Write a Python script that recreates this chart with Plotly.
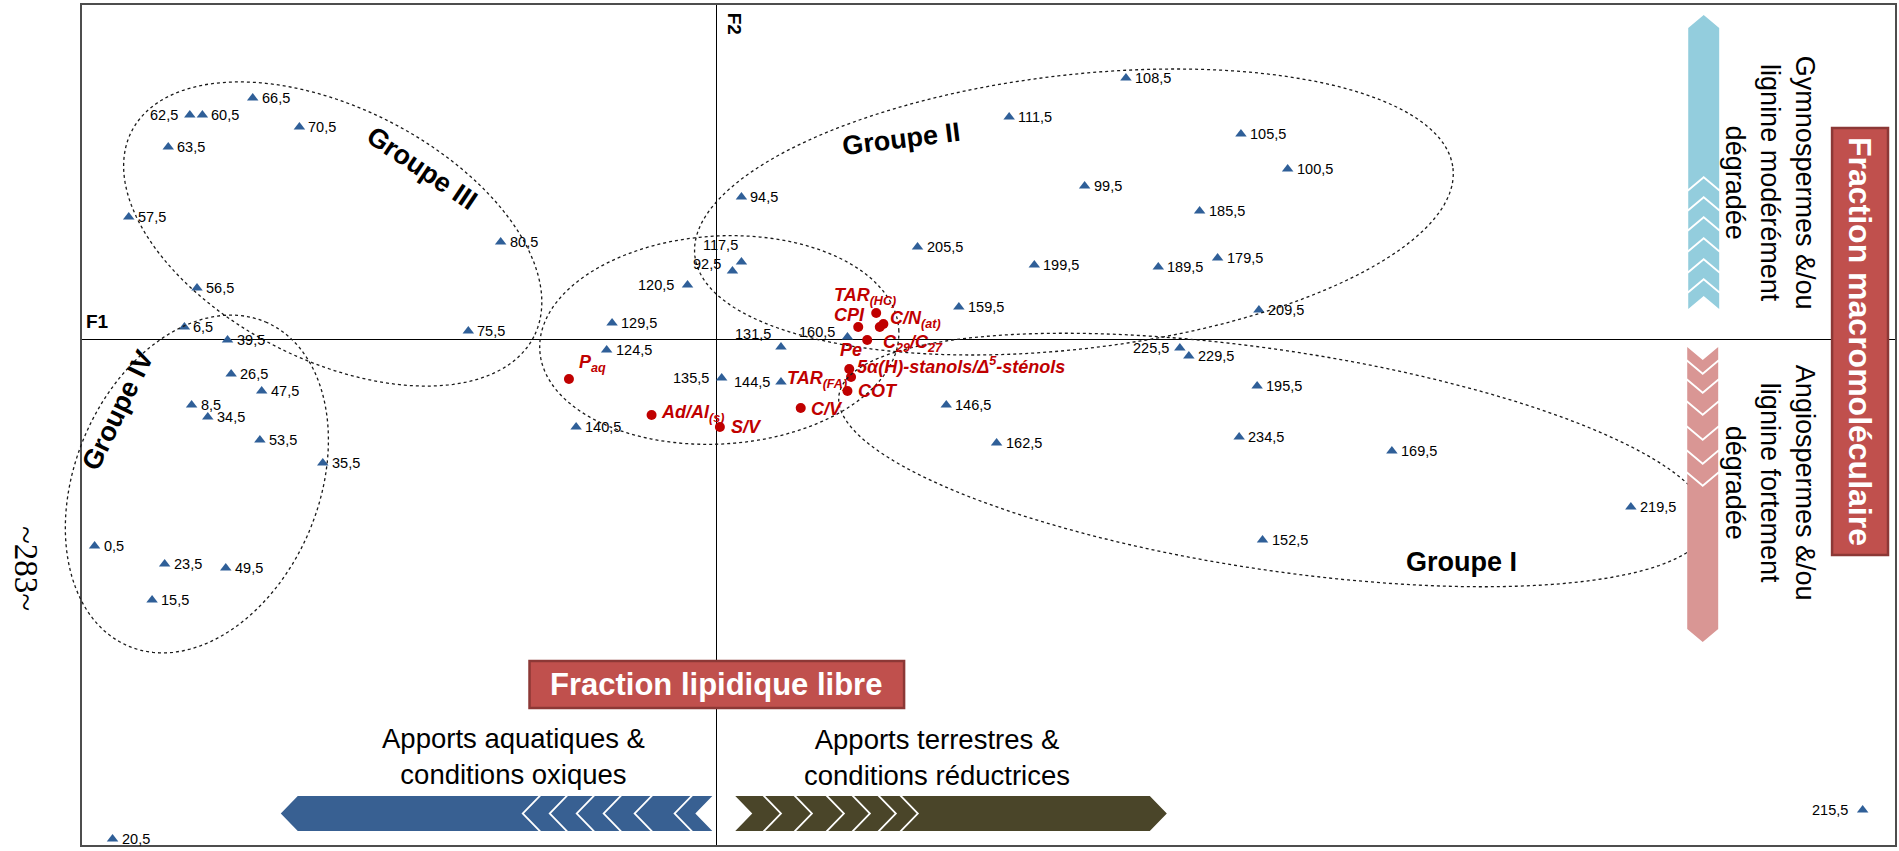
import numpy as np
import plotly.graph_objects as go

# ---------------------------------------------------------------
# Sample scores on the two first factorial axes (F1, F2)
# ---------------------------------------------------------------
sample_labels = [
    "62,5", "60,5", "66,5", "70,5", "63,5", "57,5", "80,5", "56,5", "75,5",
    "6,5", "39,5", "26,5", "47,5", "8,5", "34,5", "53,5", "35,5", "0,5",
    "23,5", "49,5", "15,5", "20,5",
    "129,5", "124,5", "140,5", "120,5", "117,5", "92,5", "94,5", "135,5",
    "131,5", "144,5", "160,5", "159,5", "146,5", "162,5", "205,5", "199,5",
    "99,5", "111,5", "108,5", "105,5", "100,5", "185,5", "189,5", "179,5",
    "209,5", "225,5", "229,5", "195,5", "234,5", "169,5", "152,5", "219,5",
    "215,5",
]
sample_f1 = [
    -2.93, -2.86, -2.58, -2.32, -3.05, -3.27, -1.20, -2.89, -1.38,
    -2.96, -2.72, -2.70, -2.53, -2.92, -2.83, -2.54, -2.19, -3.46,
    -3.07, -2.73, -3.14, -3.36,
    -0.58, -0.61, -0.78, -0.16, 0.14, 0.09, 0.14, 0.03,
    0.36, 0.36, 0.73, 1.35, 1.28, 1.56, 1.12, 1.77,
    2.05, 1.63, 2.28, 2.92, 3.18, 2.69, 2.46, 2.79,
    3.02, 2.58, 2.63, 3.01, 2.91, 3.76, 3.04, 5.09,
    6.38,
]
sample_f2 = [
    2.24, 2.24, 2.41, 2.12, 1.92, 1.22, 0.97, 0.51, 0.08,
    0.12, -0.01, -0.35, -0.52, -0.66, -0.78, -1.01, -1.24, -2.07,
    -2.25, -2.29, -2.61, -5.00,
    0.16, -0.11, -0.88, 0.54, 0.77, 0.68, 1.42, -0.39,
    -0.08, -0.43, 0.02, 0.32, -0.66, -1.04, 0.92, 0.74,
    1.53, 2.22, 2.61, 2.05, 1.70, 1.28, 0.72, 0.81,
    0.29, -0.09, -0.17, -0.47, -0.98, -1.12, -2.01, -1.68,
    -4.71,
]

# ---------------------------------------------------------------
# Free-lipid / bulk parameters projected on the same plane
# ---------------------------------------------------------------
var_labels = [
    "TAR<sub>(HC)</sub>", "CPI", "C/N<sub>(at)</sub>", "C<sub>29</sub>/C<sub>27</sub>",
    "Pe", "5\u03b1(H)-stanols/\u0394<sup>5</sup>-st\u00e9nols", "TAR<sub>(FA)</sub>",
    "COT", "C/V", "S/V", "Ad/Al<sub>(s)</sub>", "P<sub>aq</sub>",
]
var_f1 = [0.89, 0.79, 0.93, 0.91, 0.84, 0.74, 0.75, 0.73, 0.47, 0.02, -0.36, -0.82]
var_f2 = [0.26, 0.12, 0.15, 0.12, -0.01, -0.30, -0.38, -0.52, -0.69, -0.88, -0.76, -0.40]

# ---------------------------------------------------------------
# Figure geometry
# ---------------------------------------------------------------
W, H = 1899, 851
ML, MR, MT, MB = 82, 2, 5, 6
PW, PH = W - ML - MR, H - MT - MB
X_RANGE = [-3.53, 6.56]
Y_RANGE = [-5.06, 3.34]

FONT = "Liberation Sans, Arial, sans-serif"
BLUE_MARK = "#2F5F98"
RED = "#C00000"


def pxx(x):
    return (x - ML) / PW


def pxy(y):
    return (H - MB - y) / PH


def poly(points):
    return "M " + " L ".join(f"{pxx(a):.5f},{pxy(b):.5f}" for a, b in points) + " Z"


def ellipse(cx, cy, a, b, angle):
    t = np.linspace(0, 2 * np.pi, 241)
    th = np.radians(angle)
    xs = cx + a * np.cos(t) * np.cos(th) - b * np.sin(t) * np.sin(th)
    ys = cy + a * np.cos(t) * np.sin(th) + b * np.sin(t) * np.cos(th)
    return poly(list(zip(xs, ys)))


def left_arrow(bounds, top, bot, d, gap):
    """Arrow pointing left made of chevron slices (bounds = notch x positions)."""
    yc = (top + bot) / 2
    out = []
    for i in range(len(bounds) - 1):
        a = bounds[i] + (gap if i > 0 else 0)
        b = bounds[i + 1]
        out.append(poly([(a, yc), (a + d, top), (b + d, top), (b, yc), (b + d, bot), (a + d, bot)]))
    return out


def right_arrow(bounds, top, bot, d, gap):
    """Arrow pointing right made of chevron slices (bounds = corner x positions)."""
    yc = (top + bot) / 2
    out = []
    n = len(bounds) - 1
    for i in range(n):
        a = bounds[i]
        b = bounds[i + 1] - (gap if i < n - 1 else 0)
        out.append(poly([(a, top), (b, top), (b + d, yc), (b, bot), (a, bot), (a + d, yc)]))
    return out


def up_arrow(bounds, xl, xr, d, gap):
    xc = (xl + xr) / 2
    out = []
    for i in range(len(bounds) - 1):
        a = bounds[i] + (gap if i > 0 else 0)
        b = bounds[i + 1]
        out.append(poly([(xc, a), (xr, a + d), (xr, b + d), (xc, b), (xl, b + d), (xl, a + d)]))
    return out


def down_arrow(bounds, xl, xr, d, gap):
    xc = (xl + xr) / 2
    out = []
    n = len(bounds) - 1
    for i in range(n):
        a = bounds[i]
        b = bounds[i + 1] - (gap if i < n - 1 else 0)
        out.append(poly([(xl, a), (xc, a + d), (xr, a), (xr, b), (xc, b + d), (xl, b)]))
    return out


fig = go.Figure()

fig.add_trace(go.Scatter(
    x=sample_f1, y=sample_f2, mode="markers",
    marker=dict(symbol="triangle-up", size=10, color=BLUE_MARK),
    hoverinfo="text", hovertext=sample_labels, showlegend=False, cliponaxis=False,
))
fig.add_trace(go.Scatter(
    x=var_f1, y=var_f2, mode="markers",
    marker=dict(symbol="circle", size=10, color=RED),
    hoverinfo="text", hovertext=var_labels, showlegend=False, cliponaxis=False,
))

annotations = []

# sample labels: default to the right of the marker
sample_label_place = {
    "62,5": ("right", -10, 0), "120,5": ("right", -12, 0), "92,5": ("right", -9, -7),
    "117,5": ("right", -1, -17), "131,5": ("right", -8, -13), "160,5": ("right", -10, -5),
    "135,5": ("right", -11, 0), "144,5": ("right", -9, 0), "225,5": ("right", -9, 0),
    "215,5": ("right", -13, 0),
}
for lab, x, y in zip(sample_labels, sample_f1, sample_f2):
    anchor, dx, dy = sample_label_place.get(lab, ("left", 7, 0))
    annotations.append(dict(
        x=x, y=y, xref="x", yref="y", text=lab, showarrow=False,
        xanchor=anchor, yanchor="middle", xshift=dx, yshift=-dy,
        font=dict(family=FONT, size=14.5, color="#000000"),
    ))

var_label_place = {
    "TAR<sub>(HC)</sub>": ("center", -11, -17),
    "CPI": ("center", -9, -12),
    "C/N<sub>(at)</sub>": ("left", 5, -5),
    "C<sub>29</sub>/C<sub>27</sub>": ("left", 1, 16),
    "Pe": ("center", -16, 10),
    "5\u03b1(H)-stanols/\u0394<sup>5</sup>-st\u00e9nols": ("left", 6, -4),
    "TAR<sub>(FA)</sub>": ("right", -2, 2),
    "COT": ("left", 9, 0),
    "C/V": ("left", 8, 1),
    "S/V": ("left", 9, 0),
    "Ad/Al<sub>(s)</sub>": ("left", 7, -2),
    "P<sub>aq</sub>": ("left", 8, -16),
}
for lab, x, y in zip(var_labels, var_f1, var_f2):
    anchor, dx, dy = var_label_place[lab]
    annotations.append(dict(
        x=x, y=y, xref="x", yref="y", text=f"<b><i>{lab}</i></b>", showarrow=False,
        xanchor=anchor, yanchor="middle", xshift=dx, yshift=-dy,
        font=dict(family=FONT, size=18, color=RED),
    ))


def paper_text(text, x, y, size, color="#000000", angle=0, bold=False, align="center"):
    t = f"<b>{text}</b>" if bold else text
    annotations.append(dict(
        x=pxx(x), y=pxy(y), xref="paper", yref="paper", text=t, showarrow=False,
        xanchor="center", yanchor="middle", textangle=angle, align=align,
        font=dict(family=FONT, size=size, color=color),
    ))


# axis names
paper_text("F1", 98, 321, 19, bold=True)
paper_text("F2", 736, 24, 19, bold=True, angle=90)

# group names
paper_text("Groupe III", 422, 168, 27, bold=True, angle=34)
paper_text("Groupe II", 902, 139, 27, bold=True, angle=-7)
paper_text("Groupe I", 1463, 562, 27, bold=True)
paper_text("Groupe IV", 118, 410, 27, bold=True, angle=-64)

# interpretation texts
paper_text("Apports aquatiques &amp;<br>conditions oxiques", 514, 756, 27.5)
paper_text("Apports terrestres &amp;<br>conditions réductrices", 938, 757, 27.5)
paper_text("Gymnospermes &amp;/ou<br>lignine modérément<br>dégradée", 1772, 183, 27, angle=90)
paper_text("Angiospermes &amp;/ou<br>lignine fortement<br>dégradée", 1772, 483, 27, angle=90)
paper_text("Fraction lipidique libre", 717, 684, 31, color="#FFFFFF", bold=True)
paper_text("Fraction macromoléculaire", 1862, 341, 32, color="#FFFFFF", bold=True, angle=90)

# page number in the margin
annotations.append(dict(
    x=pxx(26), y=pxy(568), xref="paper", yref="paper", text="~283~", showarrow=False,
    xanchor="center", yanchor="middle", textangle=90,
    font=dict(family="Liberation Serif, Times New Roman, serif", size=33, color="#000000"),
))

shapes = []

# group ellipses (dotted)
ell_line = dict(color="#1A1A1A", width=1.3, dash="dot")
for cx, cy, a, b, ang in [
    (333, 234, 226, 126, 27),
    (197, 484, 176, 122, -67),
    (720, 340, 180, 104, -3.3),
    (1075, 212, 382, 137, -6.6),
    (1275, 460, 440, 110, 8.5),
]:
    shapes.append(dict(type="path", path=ellipse(cx, cy, a, b, ang), xref="paper", yref="paper",
                       line=ell_line, fillcolor="rgba(0,0,0,0)", layer="above"))

# horizontal chevron arrows
for p in left_arrow([281, 522, 549, 576, 603, 634, 674, 696], 796, 831, 17, 2.5):
    shapes.append(dict(type="path", path=p, xref="paper", yref="paper",
                       fillcolor="#386092", line=dict(width=0), layer="above"))
for p in right_arrow([736, 766, 797, 829, 855, 881, 903, 1151], 796, 831, 17, 2.5):
    shapes.append(dict(type="path", path=p, xref="paper", yref="paper",
                       fillcolor="#4A4529", line=dict(width=0), layer="above"))

# vertical chevron arrows
for p in up_arrow([15, 176, 196, 216, 237, 258, 278, 296], 1690, 1721, 13, 2.5):
    shapes.append(dict(type="path", path=p, xref="paper", yref="paper",
                       fillcolor="#93CDDD", line=dict(width=0), layer="above"))
for p in down_arrow([347, 362, 381, 403, 428, 452, 474, 629], 1689, 1720, 13, 2.5):
    shapes.append(dict(type="path", path=p, xref="paper", yref="paper",
                       fillcolor="#D99694", line=dict(width=0), layer="above"))

# title boxes
for x0, y0, x1, y1 in [(530, 661, 905, 708), (1834, 128, 1890, 555)]:
    shapes.append(dict(type="rect", x0=pxx(x0), x1=pxx(x1), y0=pxy(y1), y1=pxy(y0),
                       xref="paper", yref="paper", fillcolor="#C0504D",
                       line=dict(color="#8C3836", width=2.5), layer="above"))

fig.update_layout(
    width=W, height=H,
    margin=dict(l=ML, r=MR, t=MT, b=MB, pad=0),
    paper_bgcolor="#FFFFFF", plot_bgcolor="#FFFFFF",
    showlegend=False,
    annotations=annotations,
    shapes=shapes,
    xaxis=dict(range=X_RANGE, showgrid=False, showticklabels=False, ticks="",
               zeroline=True, zerolinecolor="#000000", zerolinewidth=1.2,
               showline=True, mirror=True, linecolor="#4D4D4D", linewidth=2),
    yaxis=dict(range=Y_RANGE, showgrid=False, showticklabels=False, ticks="",
               zeroline=True, zerolinecolor="#000000", zerolinewidth=1.2,
               showline=True, mirror=True, linecolor="#4D4D4D", linewidth=2),
)

fig.write_html("out.html")
